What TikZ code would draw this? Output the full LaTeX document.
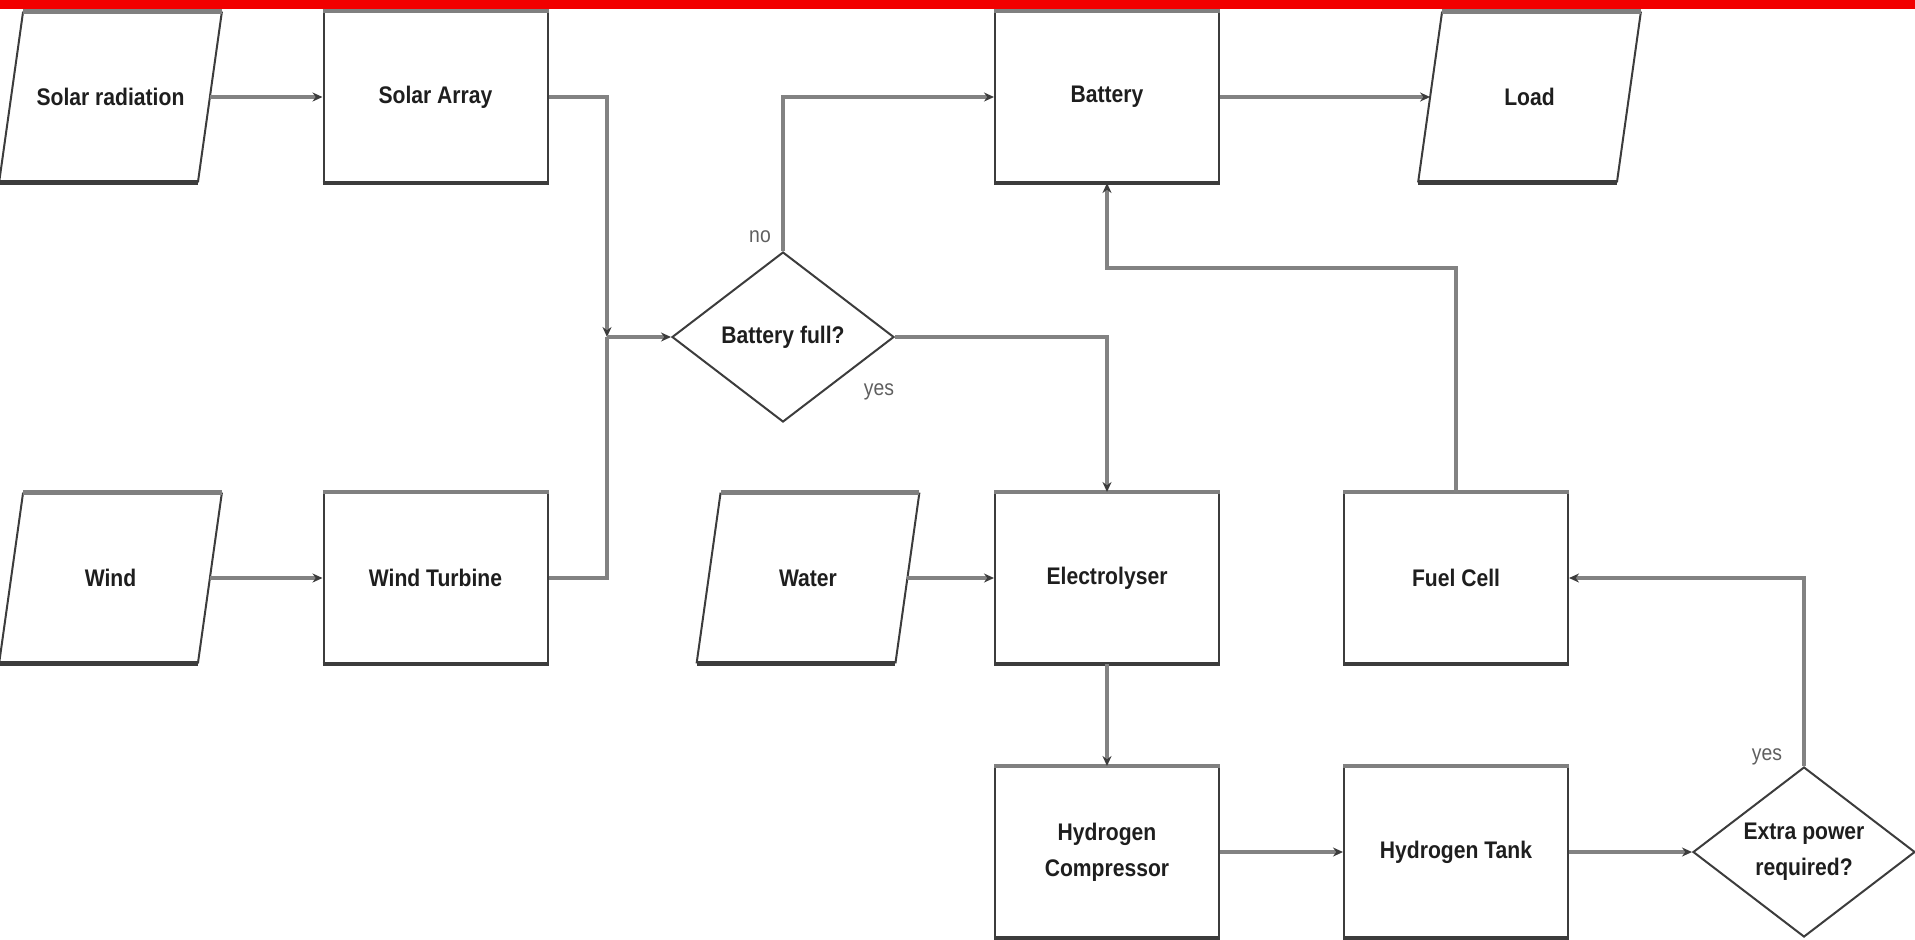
\documentclass[tikz,border=0pt]{standalone}
\usepackage{fontspec}
\setmainfont[FakeStretch=0.88]{Liberation Sans}
\usetikzlibrary{shapes.geometric,arrows.meta,calc}
\definecolor{barred}{RGB}{242,0,0}
\definecolor{linegray}{RGB}{130,130,130}
\definecolor{edgedark}{RGB}{60,60,60}
\definecolor{edgetop}{RGB}{128,128,128}
\definecolor{txt}{RGB}{30,30,30}
\definecolor{lblc}{RGB}{95,95,95}
\begin{document}
\begin{tikzpicture}[x=0.5pt,y=-0.5pt,
  every node/.style={text=txt},
  nodefont/.style={font=\bfseries\fontsize{12}{18}\selectfont},
  procbox/.style={rectangle, draw=edgedark, line width=1pt, minimum width=112pt, minimum height=85pt, inner sep=0pt, nodefont, align=center},
  iobox/.style={rectangle, minimum width=99pt, minimum height=85pt, inner sep=0pt, nodefont, align=center},
  decbox/.style={diamond, draw=edgedark, line width=1pt, aspect=1.3, minimum width=111pt, minimum height=85pt, inner sep=0pt, nodefont, align=center},
  flow/.style={draw=linegray, line width=1.7pt, -{Stealth[length=5pt,width=4.5pt,color=edgedark]}},
  plainline/.style={draw=linegray, line width=1.7pt},
  lbl/.style={text=lblc, font=\fontsize{11}{13}\selectfont},
  topedge/.style={draw=edgetop, line width=2.2pt},
  botedge/.style={draw=edgedark, line width=2.2pt},
  sideedge/.style={draw=edgedark, line width=1pt}
]
\useasboundingbox (0,0) rectangle (1915,939);

% nodes
\node[iobox]   (srad)  at (110.5,97) {Solar radiation};
\node[procbox] (sarr)  at (435.5,97) {Solar Array};
\node[procbox] (batt)  at (1107,97)  {Battery};
\node[iobox]   (load)  at (1529.5,97) {Load};
\node[decbox]  (dia1)  at (783,337)  {Battery full?};
\node[iobox]   (wind)  at (110.5,578) {Wind};
\node[procbox] (wturb) at (435.5,578) {Wind Turbine};
\node[iobox]   (water) at (808,578)  {Water};
\node[procbox] (elec)  at (1107,578) {Electrolyser};
\node[procbox] (fuel)  at (1456,578) {Fuel Cell};
\node[procbox] (comp)  at (1107,852) {Hydrogen\\Compressor};
\node[procbox] (tank)  at (1456,852) {Hydrogen Tank};
\node[decbox]  (dia2)  at (1804,852) {Extra power\\required?};

% parallelograms
\foreach \n in {srad,wind,water,load}{
  \draw[sideedge] ($(\n.north west)+(12,0)$) -- ($(\n.south west)+(-12,0)$);
  \draw[sideedge] ($(\n.north east)+(12,0)$) -- ($(\n.south east)+(-12,0)$);
  \draw[topedge] ($(\n.north west)+(12,0)$) -- ($(\n.north east)+(12,0)$);
  \draw[botedge] ($(\n.south west)+(-12,0)$) -- ($(\n.south east)+(-12,0)$);
}
% heavier top and bottom edges of boxes
\foreach \n in {sarr,batt,wturb,elec,fuel,comp,tank}{
  \draw[topedge] (\n.north west) -- (\n.north east);
  \draw[botedge] (\n.south west) -- (\n.south east);
}

% coordinates
\coordinate (j) at (607,337);
\coordinate (bret) at (1107,268);

% connectors
\draw[flow] (srad.east) -- (sarr.west);
\draw[flow] (sarr.east) -| (j);
\draw[plainline] (wturb.east) -| (j);
\draw[flow] (j) -- (dia1.west);
\draw[flow] (dia1.north) |- (batt.west);
\draw[flow] (dia1.east) -| (elec.north);
\draw[flow] (batt.east) -- (load.west);
\draw[flow] (fuel.north) |- (bret) -- (batt.south);
\draw[flow] (wind.east) -- (wturb.west);
\draw[flow] (water.east) -- (elec.west);
\draw[flow] (elec.south) -- (comp.north);
\draw[flow] (comp.east) -- (tank.west);
\draw[flow] (tank.east) -- (dia2.west);
\draw[flow] (dia2.north) |- (fuel.east);

% labels
\node[lbl] (lno)   at (760,237) {no};
\node[lbl] (lyes1) at (879,392) {yes};
\node[lbl] (lyes2) at (1767,757) {yes};

% red bar
\fill[barred] (0,0) rectangle (1915,9);
\end{tikzpicture}
\end{document}
